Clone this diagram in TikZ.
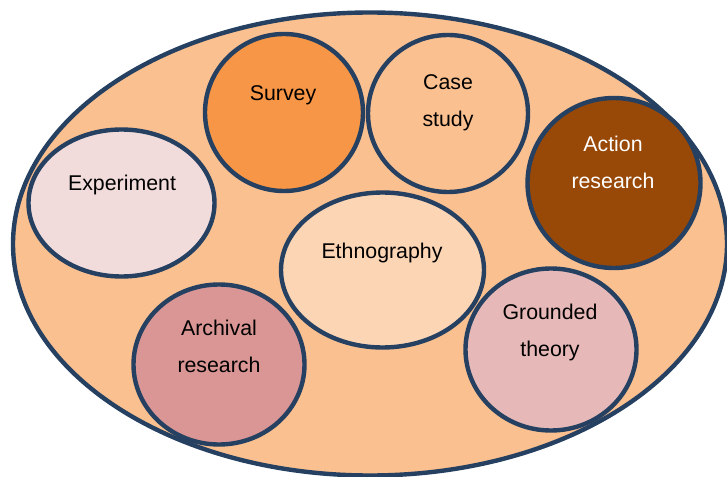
\documentclass[tikz,border=0pt]{standalone}
\usepackage{fontspec}
\setmainfont{Liberation Sans}
\usetikzlibrary{shapes.geometric}

\definecolor{rim}{HTML}{254061}
\definecolor{fieldfill}{HTML}{FAC090}
\definecolor{surveyfill}{HTML}{F79646}
\definecolor{actionfill}{HTML}{984807}
\definecolor{experimentfill}{HTML}{F2DCDB}
\definecolor{ethnofill}{HTML}{FCD5B5}
\definecolor{archivalfill}{HTML}{D99694}
\definecolor{groundedfill}{HTML}{E6B9B8}

\tikzset{
 method/.style={ellipse, draw=rim, line width=3.3pt, inner sep=0pt},
 methodtext/.style={anchor=base, align=center, inner sep=0pt,
  font=\fontsize{16}{27.75}\selectfont}
}

\begin{document}
\begin{tikzpicture}[x=0.75pt, y=-0.75pt]
 \useasboundingbox (0,0) rectangle (727,477);
 % the outer field
 \node (field) [method, fill=fieldfill, minimum width=535.5pt, minimum height=347.25pt] at (370,244) {};
 % the methods
 \node (survey) [method, fill=surveyfill, minimum width=118.5pt, minimum height=117.75pt] at (284,112.5) {};
 \node (case) [method, fill=fieldfill, minimum width=120pt, minimum height=117.75pt] at (448,113.5) {};
 \node (action) [method, fill=actionfill, minimum width=129.75pt, minimum height=127.5pt] at (614,183) {};
 \node (experiment) [method, fill=experimentfill, minimum width=139.5pt, minimum height=110.25pt] at (121.5,203) {};
 \node (ethno) [method, fill=ethnofill, minimum width=152.25pt, minimum height=116.25pt] at (382.5,270) {};
 \node (archival) [method, fill=archivalfill, minimum width=128.25pt, minimum height=120pt] at (219,364.5) {};
 \node (grounded) [method, fill=groundedfill, minimum width=128.25pt, minimum height=121.5pt] at (551,349.5) {};
 % labels (base = baseline of the last line)
 \node (survey-txt) [methodtext] at (283,101) {Survey};
 \node (case-txt) [methodtext] at (448,127) {Case\\study};
 \node (action-txt) [methodtext, text=white] at (613,189) {Action\\research};
 \node (experiment-txt) [methodtext] at (122,191) {Experiment};
 \node (ethno-txt) [methodtext] at (382,258) {Ethnography};
 \node (archival-txt) [methodtext] at (219,372) {Archival\\research};
 \node (grounded-txt) [methodtext] at (550,356) {Grounded\\theory};
\end{tikzpicture}
\end{document}
